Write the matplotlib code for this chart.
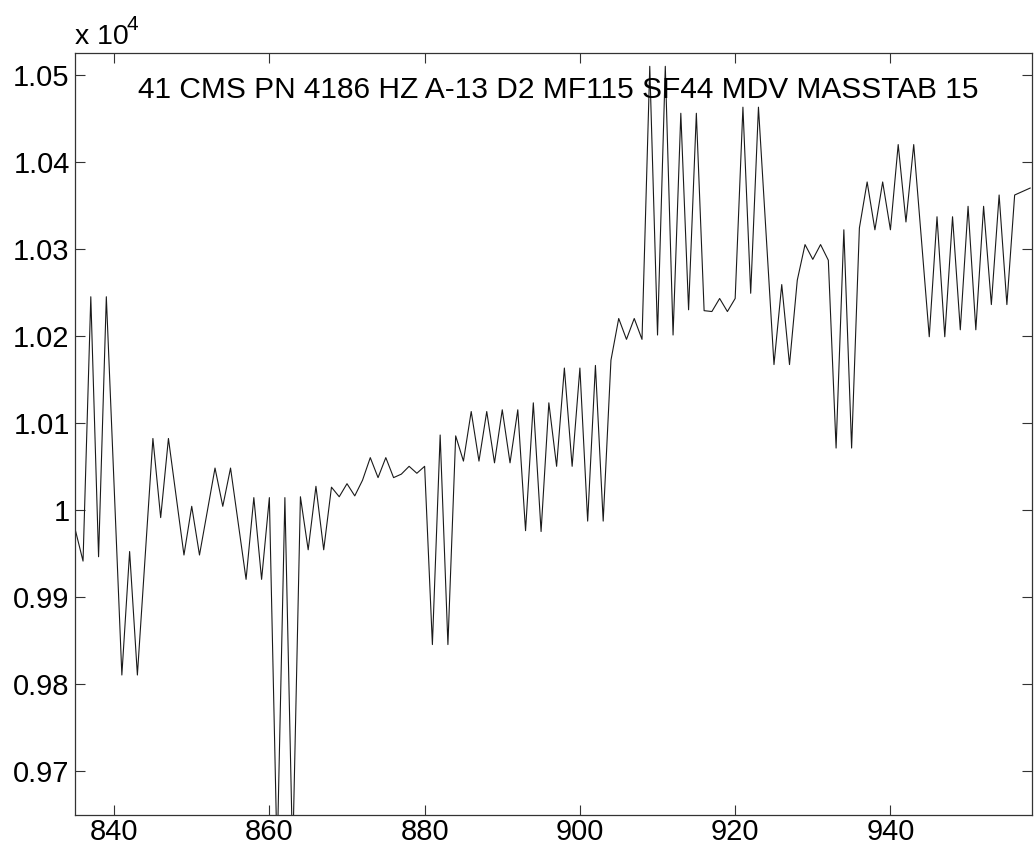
import numpy as np
import matplotlib
matplotlib.use("Agg")
import matplotlib.pyplot as plt

plt.rcParams["font.family"] = ["Liberation Sans", "DejaVu Sans"]

# mass scan: one reading per integer position
positions = np.arange(835, 959)

readings = [
    9977, 9941, 10245, 9946, 10245, 10028, 9810, 9952, 9810, 9946,   # 835-844
    10082, 9991, 10082, 10015, 9948, 10004, 9948, 9998, 10048, 10004,  # 845-854
    10048, 9984, 9920, 10014, 9920, 10014, 9600, 10014, 9600, 10015,   # 855-864
    9954, 10027, 9954, 10026, 10015, 10030, 10016, 10034, 10060, 10037,  # 865-874
    10060, 10037, 10041, 10050, 10042, 10050, 9845, 10086, 9845, 10085,  # 875-884
    10056, 10113, 10056, 10113, 10054, 10115, 10054, 10115, 9976, 10123,  # 885-894
    9975, 10123, 10050, 10163, 10050, 10163, 9987, 10166, 9987, 10172,   # 895-904
    10220, 10196, 10220, 10196, 10510, 10201, 10510, 10201, 10456, 10230,  # 905-914
    10456, 10229, 10228, 10243, 10228, 10243, 10463, 10249, 10463, 10315,  # 915-924
    10167, 10259, 10167, 10264, 10305, 10288, 10305, 10287, 10071, 10322,  # 925-934
    10071, 10324, 10377, 10322, 10377, 10322, 10420, 10331, 10420, 10310,  # 935-944
    10199, 10337, 10199, 10337, 10207, 10349, 10207, 10349, 10236, 10362,  # 945-954
    10236, 10362, 10366, 10370,                                          # 955-958
]

y_ticks = [9700, 9800, 9900, 10000, 10100, 10200, 10300, 10400, 10500]
x_ticks = [840, 860, 880, 900, 920, 940]
title_text = "41 CMS PN 4186 HZ A-13 D2 MF115 SF44 MDV MASSTAB 15"

fig = plt.figure(figsize=(10.34, 8.51), dpi=100)
ax = fig.add_axes([0.0728, 0.0423, 0.9250, 0.8951])

ax.plot(positions, readings, color="#1a1a1a", linewidth=0.8)

ax.set_xlim(835, 958.2)
ax.set_ylim(9649, 10525)

ax.set_xticks(x_ticks)
ax.set_xticklabels([str(t) for t in x_ticks])
ax.set_yticks(y_ticks)
ax.set_yticklabels([f"{t / 1e4:g}" for t in y_ticks])

ax.tick_params(direction="in", length=7, width=0.8, top=True, right=True,
               labelsize=21, color="#333333")
ax.tick_params(axis="x", pad=2)
ax.tick_params(axis="y", pad=4)
for side in ax.spines.values():
    side.set_linewidth(0.9)
    side.set_color("#333333")

ax.text(0.5045, 0.952, title_text, transform=ax.transAxes,
        ha="center", va="center", fontsize=21.5)

# exponent label above the y axis, matlab style
fig.text(75 / 1034, 1 - 44 / 851, "x 10", fontsize=20.5,
         ha="left", va="baseline")
fig.text(127 / 1034, 1 - 30 / 851, "4", fontsize=15,
         ha="left", va="baseline")

fig.savefig("out.png", dpi=100)
